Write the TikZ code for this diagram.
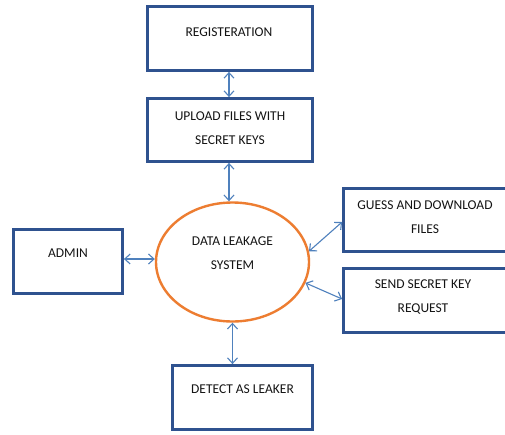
\documentclass[tikz,border=0pt]{standalone}
\usepackage{fontspec}
\setmainfont{Carlito}
\usetikzlibrary{arrows.meta,shapes.geometric}
\definecolor{boxblue}{RGB}{47,82,143}
\definecolor{arrowblue}{RGB}{79,129,189}
\definecolor{ellorange}{RGB}{237,125,49}
\definecolor{txtcol}{RGB}{20,20,20}
\tikzset{
  box/.style={draw=boxblue, line width=2.8pt, rectangle, inner sep=0pt},
  sysell/.style={draw=ellorange, line width=2.4pt, ellipse, inner sep=0pt},
  txt/.style={text=txtcol, font=\fontsize{13.5}{24}\selectfont, align=center, inner sep=0pt},
  link/.style={draw=arrowblue, line width=1.1pt, {Straight Barb[length=5.5pt,width=10pt]}-{Straight Barb[length=5.5pt,width=10pt]}}
}
\begin{document}
\begin{tikzpicture}[x=1pt,y=-1pt]
\useasboundingbox (0,0) rectangle (505,434);
\fill[white] (0,0) rectangle (505,434);
% boxes
\node[box, minimum width=165pt, minimum height=64pt] (reg) at (230,38.5) {};
\node[box, minimum width=165pt, minimum height=63pt] (upload) at (230,130) {};
\node[box, minimum width=109pt, minimum height=64pt] (admin) at (68,261.5) {};
\node[sysell, minimum width=153pt, minimum height=119pt] (sys) at (232.5,262) {};
\node[box, minimum width=163pt, minimum height=63pt] (guess) at (425,220) {};
\node[box, minimum width=163pt, minimum height=64pt] (send) at (425,300.5) {};
\node[box, minimum width=140pt, minimum height=64pt] (detect) at (242.5,397.5) {};
% texts
\node[txt] (regt) at (229,32) {REGISTERATION};
\node[txt] (uploadt) at (230,128.5) {UPLOAD FILES WITH\\SECRET KEYS};
\node[txt] (admint) at (68,253) {ADMIN};
\node[txt] (syst) at (232.5,253) {DATA LEAKAGE\\SYSTEM};
\node[txt] (guesst) at (425,217) {GUESS AND DOWNLOAD\\FILES};
\node[txt] (sendt) at (423,297.5) {SEND SECRET KEY\\REQUEST};
\node[txt] (detectt) at (242.5,389) {DETECT AS LEAKER};
% connectors
\draw[link] ([xshift=-1pt]reg.south) -- ([xshift=-1pt]upload.north);
\draw[link] ([xshift=-1pt]upload.south) -- ([xshift=-1pt]upload.south |- sys.north);
\draw[link] (admin.east |- 0,259) -- (sys.west |- 0,259);
\draw[link] (sys.south) -- (sys.south |- detect.north);
\draw[link] (sys.8) -- ([yshift=-2pt]guess.west);
\draw[link] (sys.-16) -- ([yshift=1.5pt]send.west);
\end{tikzpicture}
\end{document}
